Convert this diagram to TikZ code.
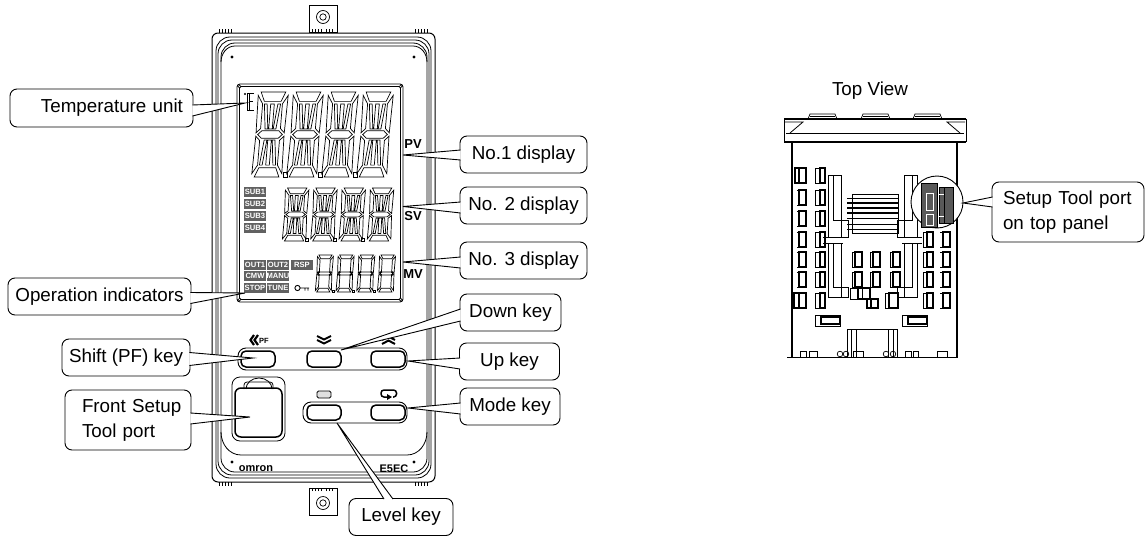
\documentclass[tikz,border=0pt]{standalone}
\usepackage{fontspec}
\setmainfont{Liberation Sans}
\usetikzlibrary{calc}
\tikzset{
  callout/.style={draw,fill=white,rounded corners=7pt,minimum height=37pt,inner xsep=0pt,
    line width=0.9pt,font=\fontsize{18.8}{25}\selectfont},
  wedge/.style={draw,fill=white,line width=0.9pt},
  bezel/.style={line width=0.8pt},
  keycap/.style={line width=1.5pt,rounded corners=5pt},
  keyframe/.style={line width=0.9pt,rounded corners=8pt},
  lamp/.style={fill=black!62,text=white,inner sep=0pt,minimum width=21.5pt,minimum height=9.8pt,
    font=\fontsize{7.6}{9}\selectfont\bfseries},
  legend/.style={inner sep=0pt,font=\fontsize{13}{13}\selectfont\bfseries},
  brand/.style={inner sep=0pt,font=\fontsize{11}{11}\selectfont\bfseries},
  termthick/.style={line width=1.4pt},
  termthin/.style={line width=0.6pt},
  seg14/.pic={
    \draw[line width=0.7pt]
      (0.9,0)--(9.1,0)--(7.8,2.2)--(2.2,2.2)--cycle
      (0.9,20)--(9.1,20)--(7.8,17.8)--(2.2,17.8)--cycle
      (0.9,10)--(2.2,9.1)--(7.8,9.1)--(9.1,10)--(7.8,10.9)--(2.2,10.9)--cycle
      (0,0.8)--(1.7,2.8)--(1.7,8.6)--(0.3,9.6)--cycle
      (10,0.8)--(8.3,2.8)--(8.3,8.6)--(9.7,9.6)--cycle
      (0,19.2)--(1.7,17.2)--(1.7,11.4)--(0.3,10.4)--cycle
      (10,19.2)--(8.3,17.2)--(8.3,11.4)--(9.7,10.4)--cycle
      (4.4,2.8)--(5.6,2.8)--(5.6,8.7)--(4.4,8.7)--cycle
      (4.4,17.2)--(5.6,17.2)--(5.6,11.3)--(4.4,11.3)--cycle
      (2.3,2.8)--(3.2,2.8)--(4.1,8.7)--(3.2,8.7)--cycle
      (7.7,2.8)--(6.8,2.8)--(5.9,8.7)--(6.8,8.7)--cycle
      (2.3,17.2)--(3.2,17.2)--(4.1,11.3)--(3.2,11.3)--cycle
      (7.7,17.2)--(6.8,17.2)--(5.9,11.3)--(6.8,11.3)--cycle;
  },
  seg7/.pic={
    \draw[line width=0.7pt]
      (0.9,0)--(9.1,0)--(7.8,2)--(2.2,2)--cycle
      (0.9,20)--(9.1,20)--(7.8,18)--(2.2,18)--cycle
      (0.9,10)--(2.2,9.2)--(7.8,9.2)--(9.1,10)--(7.8,10.8)--(2.2,10.8)--cycle
      (0,0.8)--(1.8,2.8)--(1.8,8.8)--(0.3,9.6)--cycle
      (10,0.8)--(8.2,2.8)--(8.2,8.8)--(9.7,9.6)--cycle
      (0,19.2)--(1.8,17.2)--(1.8,11.2)--(0.3,10.4)--cycle
      (10,19.2)--(8.2,17.2)--(8.2,11.2)--(9.7,10.4)--cycle;
  },
}
\begin{document}
\begin{tikzpicture}[x=1pt,y=-1pt]
\useasboundingbox (0,0) rectangle (1146,538);

% mounting clips
\foreach \y/\s in {5/1,515/-1} {
  \draw[line width=0.9pt] (309,\y) rectangle (337,\y+27*\s);
  \draw[line width=0.7pt] (323,\y+12*\s) circle (6.5) (323,\y+12*\s) circle (3.2);
  \foreach \x in {312,315,318,321,326,329,332}
    \draw[line width=0.5pt] (\x,\y+24*\s)--(\x,\y+27*\s);
}
\foreach \x in {219,222,225,228,231,415,418,421,424,427} {
  \draw[line width=0.5pt] (\x,29)--(\x,33);
  \draw[line width=0.5pt] (\x,482)--(\x,486);
}

% case and bezel
\draw[line width=1pt,rounded corners=6pt] (212,33) rectangle (435,482);
\draw[bezel,rounded corners=14pt] (216,37) rectangle (431,478);
\draw[bezel,rounded corners=14pt] (218,40) rectangle (429,475);
\draw[bezel,rounded corners=14pt] (221,43) rectangle (427,472);
\draw[bezel] (221,62) to[out=90,in=180] (235,46) -- (413,46) to[out=0,in=90] (427,62);
\draw[bezel] (221,432) to[out=-90,in=180] (241,455) -- (407,455) to[out=0,in=-90] (427,432);
\foreach \x/\y in {232/57,414/57,232/462,414/462}
  \fill (\x,\y) circle (1.7);

% display window
\draw[line width=0.9pt,rounded corners=3pt] (237,84) rectangle (403,302);
\draw[bezel,rounded corners=2pt] (239.5,86.5) rectangle (400.5,299.5);
\foreach \x/\y in {239.5/86.5,400.5/86.5,239.5/299.5,400.5/299.5}
  \draw[line width=0.5pt] (\x,\y) circle (1.4);

% digits
\foreach \n in {0,1,2,3}
  \pic[xslant=0.082,xscale=3,yscale=4.25] at (258.5+35*\n,92) {seg14};
\foreach \n in {0,1,2}
  \draw[line width=0.6pt] (283+35*\n,172) rectangle +(4,5);
\foreach \n in {0,1,2,3}
  \pic[xslant=0.06,xscale=2.35,yscale=2.65] at (285.5+28.3*\n,188) {seg14};
\foreach \n in {0,1,2}
  \draw[line width=0.6pt] (305+28.3*\n,238) rectangle +(3,3);
\foreach \n in {0,1,2,3}
  \pic[xslant=0.06,xscale=1.6,yscale=1.85] at (317.5+20.7*\n,255) {seg7};
\foreach \n in {0,1,2}
  \draw[line width=0.6pt] (332+20.7*\n,290) rectangle +(2,2);

% temperature unit mark
\fill (245,94) circle (1.2);
\draw[line width=0.9pt] (254,93)--(247,93)--(247,110)--(254,110) (249,93)--(249,110) (249,101)--(253,101);

% indicators
\foreach \t/\x/\y in {SUB1/255/192,SUB2/255/204,SUB3/255/216,SUB4/255/228,
    OUT1/255/265,OUT2/278/265,CMW/255/276,MANU/278/276,STOP/255/288,TUNE/278/288}
  \node[lamp] (lamp\t) at (\x,\y) {\t};
\node[lamp] (lampRSP) at (302,265) {RSP};
\draw[line width=0.9pt] (297.5,288) circle (2.6) (300,288)--(309,288) (305,288)--(305,290.5) (308,288)--(308,290.5);

\node[legend] (pvmark) at (413,144) {PV};
\node[legend] (svmark) at (413,216) {SV};
\node[legend] (mvmark) at (413,274) {MV};

% keys
\draw[keyframe] (238,348) rectangle (407,370);
\draw[keyframe] (303,402) rectangle (407,423);
\foreach \x/\y/\h in {241/351/16,307/351/16,371/351/16,307/405/15,371/405/15}
  \draw[keycap] (\x,\y) rectangle +(34,\h);
\draw[line width=2.2pt] (254,335)--(250.5,340)--(254,345) (258,335)--(254.5,340)--(258,345);
\node[brand,font=\fontsize{7.5}{7.5}\selectfont\bfseries] (pfmark) at (264,340.5) {PF};
\draw[line width=2pt] (317,336)--(324,339.5)--(331,336) (317,340)--(324,343.5)--(331,340);
\draw[line width=2pt] (382,340)--(388.5,336.5)--(395,340) (382,344)--(388.5,340.5)--(395,344);
\draw[line width=0.8pt,fill=gray!25,rounded corners=1.5pt] (317,391) rectangle (331,398);
\draw[line width=1.5pt,rounded corners=3pt] (393,397)--(396.5,397)--(396.5,390)--(381,390)--(381,397)--(387,397);
\fill (387,394)--(392,397)--(387,400)--cycle;

% front port
\draw[line width=0.8pt,rounded corners=8pt] (232,377) rectangle (285,441);
\draw[line width=1.5pt,rounded corners=6pt] (235,388) rectangle (282,437);
\draw[line width=0.8pt,rounded corners=3pt] (244,389)--(244,382)--(273,382)--(273,389);
\draw[line width=0.8pt] (246,389) arc[start angle=180,end angle=360,x radius=13,y radius=11];

\node[brand] (brandlogo) at (256,468.5) {omron};
\node[brand] (modelname) at (394,468.5) {E5EC};

% top view
\node[font=\fontsize{18.8}{20}\selectfont,inner sep=0pt] (topview) at (870,91) {Top View};
\foreach \x in {808,861,913} {
  \draw[line width=0.7pt] (\x,119)--(\x+2,114)--(\x+27,114)--(\x+29,119);
  \draw[line width=0.7pt] (\x+2,116)--(\x+27,116);
}
\draw[line width=1.2pt] (784,119)--(966,119);
\draw[line width=0.7pt] (784,119)--(784,142) (966,119)--(966,142) (786,133)--(964,133);
\draw[line width=1.5pt] (784,142)--(966,142);
\draw[line width=0.8pt] (785,122)--(803,122)--(790,133) (965,122)--(947,122)--(960,133);
\draw[line width=1.3pt] (792,142)--(792,358) (957,142)--(957,358);
\draw[line width=1.1pt] (787,357.5)--(958,357.5);

% terminals
\foreach \y in {168,190,211,232,252,272,293} {
  \draw[termthick] (799,\y) rectangle +(7,15);
  \draw[termthin] (797,\y)--(799,\y) (797,\y+15)--(799,\y+15);
  \draw[termthick] (820,\y) rectangle +(5,15);
  \draw[termthin] (815,\y) rectangle +(5,15);
}
\draw[termthick] (795,168) rectangle +(4,15);
\draw[termthick] (794,293) rectangle +(5,15);
\foreach \y in {232,252,272,293} {
  \draw[termthick] (927,\y) rectangle +(6,15);
  \draw[termthin] (923,\y) rectangle +(4,15);
  \draw[termthick] (943,\y) rectangle +(7,15);
  \draw[termthin] (940,\y)--(943,\y) (940,\y+15)--(943,\y+15);
}
\foreach \y in {252,272} \foreach \x in {852,870,890} {
  \draw[termthick] (\x+3,\y) rectangle +(7,15);
  \draw[termthin] (\x,\y) rectangle +(3,15);
}
\draw[termthick] (858,288) rectangle (870,299);
\draw[termthin] (850,288) rectangle (870,299) (862,288)--(862,299);
\draw[termthick] (871,299) rectangle (878,308) (867,299) rectangle (871,308);
\draw[termthick] (889,293) rectangle (898,308);
\draw[termthin] (885,293) rectangle (889,308);

% channels
\foreach \x/\o/\f in {828/1/1,917/-1/-1} {
  \draw[line width=0.8pt] (\x,175) -- (\x+13*\o,175) -- (\x+13*\o,220) -- (\x+20*\o,220) -- (\x+20*\o,237) -- (\x,237) -- cycle;
  \draw[line width=0.8pt] (\x+5*\o,175)--(\x+5*\o,220)--(\x+13*\o,220) (\x+13*\o,220)--(\x+13*\o,237);
  \draw[line width=0.8pt] (\x,243) -- (\x+13*\o,243) -- (\x+13*\o,287) -- (\x+20*\o,287) -- (\x+20*\o,297) -- (\x,297) -- cycle;
  \draw[line width=0.8pt] (\x+5*\o,243)--(\x+5*\o,287)--(\x+13*\o,287) (\x+13*\o,287)--(\x+13*\o,297);
  \draw[line width=0.6pt] (\x-5*\o,237)--(\x+15*\o,237) (\x-5*\o,243)--(\x+15*\o,243);
}

% ribbon in the middle
\draw[line width=0.7pt] (852,194) rectangle (898,233);
\foreach \y/\w in {198/0.4,203/1.2,208/1.2,213/1.2,218/0.5,224/0.4,229/0.4}
  \draw[line width=\w pt] (847,\y)--(898,\y);

% port in the circle
\draw[line width=0.9pt,fill=white] (937,202) circle (26);
\fill[gray!70!black] (921,183) rectangle (937,227);
\fill[gray!70!black] (939,187) rectangle (953,223);
\draw[line width=0.9pt] (921,183) rectangle (937,227) (939,187) rectangle (953,223);
\draw[white,line width=0.6pt] (926,193) rectangle (933,210) (926,214) rectangle (933,225) (938,194)--(945,194) (938,216)--(945,216);
\draw[line width=0.6pt] (944,187)--(944,223);

% bottom of the top view
\foreach \x in {815,902} {
  \draw[line width=0.7pt] (\x,315) rectangle +(25,11);
  \draw[line width=1.1pt] (\x+6,317) rectangle +(19,7);
}
\draw[line width=0.8pt] (847,358)--(847,329)--(897,329)--(897,358) (851,329)--(851,358) (856,329)--(856,358) (888,329)--(888,358) (893,329)--(893,358);
\foreach \x/\w in {800/6,809/8,853/10,905/6,913/5,937/10}
  \draw[line width=0.7pt] (\x,351) rectangle +(\w,6);
\foreach \x in {840,846,886,893}
  \draw[line width=0.7pt] (\x,354) circle (2.8);

% labels
\node[callout,text width=163pt,inner xsep=10pt,align=right,minimum height=38pt] (unitlabel) at (101.5,108) {Temperature unit};
\node[callout,minimum width=183pt] (oplabel) at (99.5,296.5) {Operation indicators};
\node[callout,minimum width=128pt] (shiftlabel) at (126,357.5) {Shift (PF) key};
\node[callout,text width=92pt,inner xsep=17pt,align=left,minimum height=60pt] (frontlabel) at (128,420) {\makebox[92pt][l]{Front Setup}\\Tool port};
\node[callout,minimum width=104pt] (levellabel) at (401,517) {Level key};
\node[callout,minimum width=127pt] (noonelabel) at (523.5,154.5) {No.1 display};
\node[callout,minimum width=127pt] (notwolabel) at (523.5,205.5) {No. 2 display};
\node[callout,minimum width=127pt] (nothreelabel) at (523.5,260.5) {No. 3 display};
\node[callout,minimum width=101pt] (downlabel) at (510.5,312.5) {Down key};
\node[callout,minimum width=100pt] (uplabel) at (509.5,361.5) {Up key};
\node[callout,minimum width=100pt] (modelabel) at (510,406.5) {Mode key};
\node[callout,text width=130pt,inner xsep=11pt,align=left,minimum height=60pt] (setuplabel) at (1068,212) {Setup Tool port\\on top panel};

% pointers
\coordinate (unittip) at (245,103);
\coordinate (optip) at (245,293);
\coordinate (shifttip) at (253,358);
\coordinate (fronttip) at (250,417);
\coordinate (onetip) at (403,155);
\coordinate (twotip) at (403,206.5);
\coordinate (threetip) at (403,262);
\coordinate (downtip) at (341,350);
\coordinate (uptip) at (408,361);
\coordinate (modetip) at (408,408);
\coordinate (setuptip) at (963,203);
\coordinate (leveltip) at (337,423);
\foreach \n/\t/\a/\b in {unitlabel/unittip/-3/8,oplabel/optip/-4/7,shiftlabel/shifttip/-5/8,frontlabel/fronttip/-7/4}
  \draw[wedge] ($(\n.east)+(-1,\a)$) -- (\t) -- ($(\n.east)+(-1,\b)$);
\foreach \n/\t/\a/\b in {noonelabel/onetip/-4.5/5.5,notwolabel/twotip/-3.5/7.5,nothreelabel/threetip/-3.5/7.5,downlabel/downtip/-3.5/8.5,uplabel/uptip/-3.5/7.5,modelabel/modetip/-3.5/7.5,setuplabel/setuptip/-15/-5}
  \draw[wedge] ($(\n.west)+(1,\a)$) -- (\t) -- ($(\n.west)+(1,\b)$);
\draw[wedge] ($(levellabel.north)+(-17,1)$) -- (leveltip) -- ($(levellabel.north)+(-8,1)$);
\end{tikzpicture}
\end{document}
